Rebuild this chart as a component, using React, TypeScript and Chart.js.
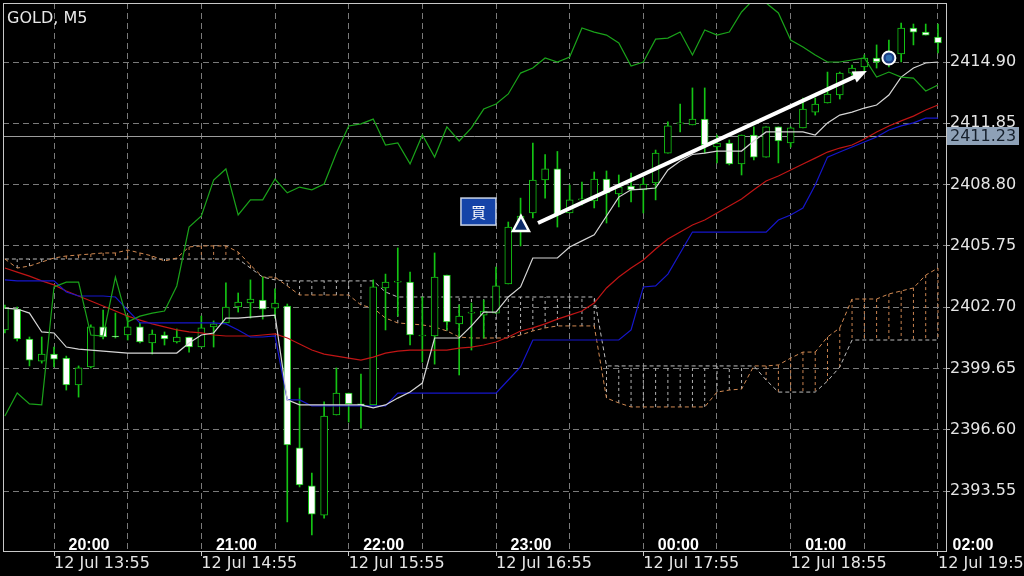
import React, { useEffect, useRef } from 'react';
import { Chart, registerables } from 'chart.js';

Chart.register(...registerables);

// ---- data (GOLD, M5) ----
const barIndex = Array.from({ length: 77 }, (_, i) => i);

const opens = [
  2401.57, 2402.61, 2401.12, 2400.02, 2400.37, 2400.17, 2398.83, 2399.73, 2401.72, 2401.27,
  2401.32, 2401.72, 2400.92, 2401.32, 2400.97, 2401.22, 2400.72, 2401.72, 2401.92, 2402.71,
  2402.91, 2403.06, 2402.66, 2402.76, 2395.70, 2393.81, 2392.36, 2397.34, 2398.43, 2397.89,
  2397.84, 2403.66, 2403.95, 2403.95, 2401.27, 2401.27, 2404.30, 2401.87, 2402.41, 2402.31,
  2402.41, 2403.86, 2406.69, 2407.39, 2409.03, 2409.58, 2407.39, 2408.04, 2407.99, 2409.08,
  2408.34, 2408.73, 2408.54, 2408.88, 2410.37, 2411.82, 2411.77, 2412.06, 2410.67, 2410.87,
  2409.83, 2411.27, 2410.17, 2411.67, 2410.87, 2411.62, 2412.41, 2412.86, 2413.26, 2414.35,
  2414.65, 2415.10, 2415.00, 2415.30, 2416.59, 2416.39, 2416.14,
];
const highs = [
  2402.81, 2402.71, 2401.22, 2401.22, 2400.72, 2400.27, 2399.78, 2401.82, 2402.56, 2402.41,
  2402.31, 2401.92, 2401.57, 2401.47, 2401.62, 2401.22, 2402.26, 2402.02, 2403.91, 2403.41,
  2404.06, 2404.20, 2403.61, 2402.86, 2398.68, 2394.45, 2397.99, 2399.68, 2398.43, 2399.38,
  2404.06, 2404.35, 2405.65, 2404.45, 2403.21, 2405.40, 2404.30, 2402.81, 2402.91, 2403.06,
  2404.70, 2406.94, 2408.13, 2410.87, 2410.30, 2410.45, 2408.78, 2408.93, 2409.43, 2409.48,
  2409.28, 2409.38, 2409.13, 2410.52, 2411.92, 2412.81, 2413.61, 2413.61, 2411.27, 2411.02,
  2411.27, 2411.67, 2411.67, 2411.67, 2411.67, 2413.11, 2413.11, 2414.40, 2414.40, 2414.75,
  2415.25, 2415.75, 2415.99, 2416.84, 2416.79, 2416.79, 2416.79,
];
const lows = [
  2401.42, 2401.02, 2399.78, 2399.92, 2399.73, 2398.58, 2398.23, 2399.68, 2401.12, 2401.17,
  2401.07, 2400.92, 2400.37, 2400.82, 2400.92, 2400.47, 2400.72, 2400.72, 2401.92, 2402.46,
  2402.16, 2402.11, 2402.16, 2392.02, 2393.76, 2391.37, 2392.21, 2397.34, 2396.99, 2396.69,
  2397.84, 2401.57, 2402.26, 2400.82, 2399.97, 2399.87, 2401.57, 2399.33, 2400.57, 2401.17,
  2402.41, 2403.86, 2405.75, 2407.14, 2408.13, 2406.69, 2407.39, 2407.79, 2407.64, 2406.89,
  2407.69, 2407.94, 2407.39, 2408.04, 2410.37, 2411.42, 2411.77, 2410.37, 2409.88, 2409.78,
  2409.28, 2410.03, 2410.17, 2409.88, 2410.67, 2411.62, 2412.26, 2412.86, 2413.06, 2414.25,
  2414.40, 2414.60, 2414.65, 2414.90, 2415.75, 2416.24, 2415.35,
];
const closes = [
  2402.66, 2401.12, 2400.07, 2400.37, 2400.12, 2398.83, 2399.68, 2401.72, 2401.22, 2401.22,
  2401.72, 2400.97, 2401.37, 2401.12, 2401.22, 2400.72, 2401.67, 2401.87, 2402.71, 2402.96,
  2403.11, 2402.61, 2402.91, 2395.85, 2393.86, 2392.41, 2397.29, 2398.43, 2397.89, 2397.84,
  2403.71, 2403.95, 2403.95, 2401.32, 2401.27, 2404.20, 2401.97, 2402.26, 2402.41, 2402.51,
  2403.76, 2406.69, 2407.24, 2409.03, 2409.58, 2407.29, 2408.04, 2408.04, 2409.08, 2408.39,
  2408.68, 2408.54, 2408.83, 2410.37, 2411.72, 2411.82, 2412.06, 2410.77, 2410.87, 2409.83,
  2411.27, 2410.17, 2411.67, 2410.97, 2411.62, 2412.56, 2412.81, 2413.31, 2414.35, 2414.60,
  2415.10, 2414.90, 2415.15, 2416.59, 2416.39, 2416.24, 2415.85,
];

// white line
const tenkanSen = [
  2402.66, 2402.61, 2402.41, 2401.47, 2401.42, 2400.72, 2400.62, 2400.57, 2400.52, 2400.47,
  2400.42, 2400.42, 2400.42, 2400.42, 2400.42, 2400.92, 2401.32, 2401.42, 2402.16, 2402.16,
  2402.21, 2402.26, 2402.31, 2398.09, 2397.84, 2397.84, 2397.84, 2397.84, 2397.84, 2397.84,
  2397.69, 2397.84, 2398.18, 2398.48, 2398.93, 2401.17, 2401.17, 2401.17, 2401.77, 2402.46,
  2402.46, 2403.21, 2403.71, 2405.15, 2405.15, 2405.15, 2405.70, 2406.00, 2406.30, 2407.24,
  2408.18, 2408.54, 2408.58, 2408.63, 2409.53, 2409.98, 2410.30, 2410.37, 2410.47, 2410.47,
  2410.47, 2410.97, 2411.42, 2411.42, 2411.42, 2411.42, 2411.27, 2411.87, 2412.26, 2412.41,
  2412.61, 2412.76, 2413.26, 2414.15, 2414.60, 2414.85, 2414.90,
];
// blue line
const kijunSen = [
  2404.06, 2404.01, 2404.01, 2404.01, 2404.01, 2403.46, 2403.26, 2403.26, 2403.26, 2403.21,
  2402.56, 2401.92, 2401.92, 2401.92, 2401.92, 2401.92, 2401.92, 2401.92, 2401.87, 2401.57,
  2401.22, 2401.22, 2401.27, 2398.09, 2398.09, 2397.79, 2397.79, 2397.79, 2397.79, 2397.79,
  2397.79, 2397.79, 2398.43, 2398.43, 2398.43, 2398.43, 2398.43, 2398.43, 2398.43, 2398.43,
  2398.43, 2399.08, 2399.73, 2401.07, 2401.07, 2401.07, 2401.07, 2401.07, 2401.07, 2401.07,
  2401.07, 2401.57, 2403.71, 2403.76, 2404.35, 2405.40, 2406.44, 2406.44, 2406.44, 2406.44,
  2406.44, 2406.44, 2406.44, 2407.04, 2407.29, 2407.64, 2408.78, 2410.17, 2410.42, 2410.67,
  2410.92, 2411.17, 2411.52, 2411.72, 2411.87, 2412.11, 2412.11,
];
// red line
const movingAverage = [
  2404.65, 2404.45, 2404.25, 2404.01, 2403.81, 2403.51, 2403.26, 2403.01, 2402.76, 2402.51,
  2402.26, 2402.06, 2401.87, 2401.72, 2401.57, 2401.47, 2401.42, 2401.32, 2401.27, 2401.27,
  2401.27, 2401.32, 2401.37, 2401.17, 2400.87, 2400.57, 2400.37, 2400.27, 2400.17, 2400.07,
  2400.22, 2400.42, 2400.52, 2400.57, 2400.57, 2400.57, 2400.57, 2400.67, 2400.72, 2400.82,
  2400.97, 2401.22, 2401.52, 2401.67, 2401.87, 2402.11, 2402.31, 2402.51, 2402.91, 2403.66,
  2404.20, 2404.65, 2405.05, 2405.60, 2406.09, 2406.44, 2406.79, 2407.04, 2407.39, 2407.74,
  2408.09, 2408.54, 2408.98, 2409.23, 2409.53, 2409.83, 2410.12, 2410.42, 2410.62, 2410.77,
  2411.07, 2411.42, 2411.72, 2411.97, 2412.21, 2412.51, 2412.76,
];
// green line
const chikouSpan = [
  2397.29, 2398.43, 2397.89, 2397.84, 2403.71, 2403.95, 2403.95, 2401.32, 2401.27, 2404.20,
  2401.97, 2402.26, 2402.41, 2402.51, 2403.76, 2406.69, 2407.24, 2409.03, 2409.58, 2407.29,
  2408.04, 2408.04, 2409.08, 2408.39, 2408.68, 2408.54, 2408.83, 2410.37, 2411.72, 2411.82,
  2412.06, 2410.77, 2410.87, 2409.83, 2411.27, 2410.17, 2411.67, 2410.97, 2411.62, 2412.56,
  2412.81, 2413.31, 2414.35, 2414.60, 2415.10, 2414.90, 2415.15, 2416.59, 2416.39, 2416.24,
  2415.85, 2414.70, 2414.90, 2416.04, 2416.09, 2416.39, 2415.25, 2416.49, 2416.24, 2416.39,
  2417.39, 2418.03, 2417.84, 2417.34, 2415.99, 2415.65, 2415.25, 2414.90, 2414.90, 2415.00,
  2415.10, 2414.15, 2414.40, 2414.15, 2414.10, 2413.46, 2413.76,
];
// cloud: orange dashed
const senkouSpanA = [
  2405.10, 2404.65, 2404.75, 2404.95, 2405.15, 2405.25, 2405.30, 2405.35, 2405.40, 2405.40,
  2405.55, 2405.40, 2405.25, 2405.00, 2405.15, 2405.70, 2405.75, 2405.75, 2405.75, 2405.45,
  2404.80, 2404.20, 2404.20, 2403.76, 2403.31, 2403.31, 2403.31, 2403.31, 2403.31, 2402.81,
  2402.66, 2402.16, 2401.92, 2401.87, 2401.82, 2401.72, 2401.52, 2401.22, 2401.17, 2401.17,
  2401.17, 2401.17, 2401.32, 2401.52, 2401.67, 2401.77, 2401.77, 2401.77, 2401.77, 2398.18,
  2397.94, 2397.74, 2397.74, 2397.74, 2397.74, 2397.74, 2397.74, 2397.74, 2398.48, 2398.58,
  2398.63, 2399.78, 2399.78, 2399.83, 2400.17, 2400.47, 2400.47, 2401.22, 2401.67, 2403.11,
  2403.11, 2403.11, 2403.36, 2403.51, 2403.66, 2404.30, 2404.65,
];
// cloud: grey dashed
const senkouSpanB = [
  2405.10, 2405.10, 2405.10, 2405.10, 2405.10, 2405.10, 2405.10, 2405.10, 2405.10, 2405.10,
  2405.10, 2405.10, 2405.10, 2405.10, 2405.10, 2405.10, 2405.10, 2405.10, 2405.10, 2405.10,
  2404.65, 2404.20, 2404.06, 2404.01, 2404.01, 2404.01, 2404.01, 2404.01, 2404.01, 2404.01,
  2404.01, 2403.46, 2403.21, 2403.21, 2403.21, 2403.21, 2403.21, 2403.21, 2403.21, 2403.21,
  2403.21, 2403.21, 2403.21, 2403.21, 2403.21, 2403.21, 2403.21, 2403.21, 2403.21, 2399.78,
  2399.78, 2399.78, 2399.78, 2399.78, 2399.78, 2399.78, 2399.78, 2399.78, 2399.78, 2399.78,
  2399.78, 2399.78, 2399.08, 2398.48, 2398.48, 2398.48, 2398.48, 2399.03, 2399.73, 2401.07,
  2401.07, 2401.07, 2401.07, 2401.07, 2401.07, 2401.07, 2401.07,
];

const yTickLabels = ['2414.90', '2411.85', '2408.80', '2405.75', '2402.70', '2399.65', '2396.60', '2393.55'];
const xGridBars = [4, 10, 16, 22, 28, 34, 40, 46, 52, 58, 64, 70, 76];
const xDateBars = [4, 16, 28, 40, 52, 64, 76];
const xDateLabels = ['12 Jul 13:55', '12 Jul 14:55', '12 Jul 15:55', '12 Jul 16:55', '12 Jul 17:55', '12 Jul 18:55', '12 Jul 19:55'];
const hourLabels = ['20:00', '21:00', '22:00', '23:00', '00:00', '01:00', '02:00'];

const currentPrice = 2411.23;
const titleText = 'GOLD, M5';
const buyText = '買';
const arrowFrom = [43.42, 2406.89];
const arrowTo = [70.21, 2414.45];
const buyLabelAt = [38.57, 2407.46];
const buyTriangleAt = [42.03, 2406.84];
const circleAt = [72.0, 2415.1];

const Y_MIN = 2390.573;
const Y_MAX = 2417.836;
const X_MIN = -0.155;
const X_MAX = 76.652;

const CANDLE = '#14c414';
const GRID = '#7a7a7a';
const AXIS_TEXT = '#e6e6e6';

const overlay = {
  id: 'overlay',
  beforeDatasetsDraw(chart: any) {
    const { ctx, chartArea, scales } = chart;
    const y = Math.round(scales.y.getPixelForValue(currentPrice)) + 0.5;
    ctx.save();
    ctx.strokeStyle = '#9c9c9c';
    ctx.lineWidth = 1;
    ctx.beginPath();
    ctx.moveTo(chartArea.left, y);
    ctx.lineTo(chartArea.right, y);
    ctx.stroke();
    ctx.restore();
  },
  afterDatasetsDraw(chart: any) {
    const { ctx, chartArea, scales } = chart;
    const xs = scales.x;
    const ys = scales.y;
    ctx.save();
    ctx.beginPath();
    ctx.rect(chartArea.left, chartArea.top, chartArea.right - chartArea.left, chartArea.bottom - chartArea.top);
    ctx.clip();

    // arrow
    const x1 = xs.getPixelForValue(arrowFrom[0]);
    const y1 = ys.getPixelForValue(arrowFrom[1]);
    const x2 = xs.getPixelForValue(arrowTo[0]);
    const y2 = ys.getPixelForValue(arrowTo[1]);
    const len = Math.hypot(x2 - x1, y2 - y1);
    const ux = (x2 - x1) / len;
    const uy = (y2 - y1) / len;
    const head = 14;
    const bx = x2 - ux * head;
    const by = y2 - uy * head;
    ctx.strokeStyle = '#ffffff';
    ctx.fillStyle = '#ffffff';
    ctx.lineWidth = 4;
    ctx.beginPath();
    ctx.moveTo(x1, y1);
    ctx.lineTo(bx + ux * 2, by + uy * 2);
    ctx.stroke();
    ctx.beginPath();
    ctx.moveTo(x2, y2);
    ctx.lineTo(bx - uy * 6, by + ux * 6);
    ctx.lineTo(bx + uy * 6, by - ux * 6);
    ctx.closePath();
    ctx.fill();

    // buy label
    const lx = xs.getPixelForValue(buyLabelAt[0]);
    const ly = ys.getPixelForValue(buyLabelAt[1]);
    ctx.fillStyle = '#1544a8';
    ctx.fillRect(lx - 17.5, ly - 13.5, 35, 27);
    ctx.strokeStyle = '#c9d3e6';
    ctx.lineWidth = 1.5;
    ctx.strokeRect(lx - 17.5, ly - 13.5, 35, 27);
    ctx.fillStyle = '#ffffff';
    ctx.font = '15px "Noto Sans CJK JP"';
    ctx.textAlign = 'center';
    ctx.textBaseline = 'middle';
    ctx.fillText(buyText, lx, ly + 1);

    // buy triangle
    const tx = xs.getPixelForValue(buyTriangleAt[0]);
    const ty = ys.getPixelForValue(buyTriangleAt[1]);
    ctx.beginPath();
    ctx.moveTo(tx, ty - 8);
    ctx.lineTo(tx - 8, ty + 7);
    ctx.lineTo(tx + 8, ty + 7);
    ctx.closePath();
    ctx.fillStyle = '#0c2a6a';
    ctx.fill();
    ctx.strokeStyle = '#ffffff';
    ctx.lineWidth = 2.5;
    ctx.stroke();

    // circle
    const cx = xs.getPixelForValue(circleAt[0]);
    const cy = ys.getPixelForValue(circleAt[1]);
    ctx.beginPath();
    ctx.arc(cx, cy, 6.5, 0, Math.PI * 2);
    ctx.fillStyle = '#1c3f86';
    ctx.fill();
    ctx.strokeStyle = '#ffffff';
    ctx.lineWidth = 2;
    ctx.stroke();
    ctx.beginPath();
    ctx.arc(cx, cy, 3.2, 0, Math.PI * 2);
    ctx.fillStyle = '#2f6fb0';
    ctx.fill();
    ctx.restore();

    // frame
    ctx.save();
    ctx.strokeStyle = '#c8c8c8';
    ctx.lineWidth = 1;
    ctx.strokeRect(chartArea.left + 0.5, chartArea.top + 0.5, chartArea.right - chartArea.left, chartArea.bottom - chartArea.top);
    ctx.restore();
  },
  afterDraw(chart: any) {
    const { ctx, chartArea, scales } = chart;
    ctx.save();
    // title
    ctx.fillStyle = '#e8e8e8';
    ctx.font = '16px "DejaVu Sans"';
    ctx.textAlign = 'left';
    ctx.textBaseline = 'alphabetic';
    ctx.fillText(titleText, 7, 23);

    // hour labels
    ctx.fillStyle = '#ffffff';
    ctx.font = 'bold 16px "Liberation Sans"';
    ctx.textAlign = 'center';
    hourLabels.forEach((t, k) => {
      const px = scales.x.getPixelForValue(xDateBars[k]) + 35;
      ctx.fillText(t, px, chartArea.bottom - 1);
    });

    // current price label
    const y = scales.y.getPixelForValue(currentPrice);
    ctx.fillStyle = '#8ea1b7';
    ctx.fillRect(chartArea.right + 1, Math.round(y) - 9, 72, 18);
    ctx.fillStyle = '#16202c';
    ctx.font = '16px "DejaVu Sans"';
    ctx.textAlign = 'left';
    ctx.textBaseline = 'middle';
    ctx.fillText(currentPrice.toFixed(2), chartArea.right + 4, Math.round(y) + 1);
    ctx.restore();
  },
};

function buildHatch(upper: boolean) {
  const pts: any[] = [];
  barIndex.forEach((i) => {
    const a = senkouSpanA[i];
    const b = senkouSpanB[i];
    if ((a >= b) === upper) {
      pts.push({ x: i, y: a }, { x: i, y: b }, { x: i, y: null });
    }
  });
  return pts;
}

function lineSet(label: string, values: number[], color: string, order: number, extra: any = {}) {
  return {
    type: 'line',
    label,
    data: values.map((v, i) => ({ x: barIndex[i], y: v })),
    borderColor: color,
    borderWidth: 1.2,
    pointRadius: 0,
    tension: 0,
    fill: false,
    spanGaps: false,
    order,
    ...extra,
  };
}

export default function App() {
  const ref = useRef<HTMLCanvasElement>(null);
  useEffect(() => {
    document.body.style.margin = '0';
    document.body.style.background = '#000';
    const isBear = barIndex.map((i) => closes[i] < opens[i]);
    const chart = new Chart(ref.current as HTMLCanvasElement, {
      type: 'bar',
      data: {
        datasets: [
          lineSet('Chikou', chikouSpan, '#1aa31a', 1),
          lineSet('Tenkan', tenkanSen, '#d6d6d6', 2),
          lineSet('Kijun', kijunSen, '#1616cc', 3),
          lineSet('MA', movingAverage, '#c01515', 4),
          {
            type: 'bar',
            label: 'Body',
            data: barIndex.map((i) => ({ x: i, y: [opens[i], closes[i]] })),
            backgroundColor: isBear.map((b) => (b ? '#ffffff' : '#000000')),
            borderColor: CANDLE,
            borderWidth: 1,
            borderSkipped: false,
            barThickness: 7,
            minBarLength: 1,
            grouped: false,
            order: 5,
          },
          {
            type: 'bar',
            label: 'Wick',
            data: barIndex.map((i) => ({ x: i, y: [lows[i], highs[i]] })),
            backgroundColor: CANDLE,
            borderWidth: 0,
            barThickness: 1,
            grouped: false,
            order: 6,
          },
          lineSet('SpanA', senkouSpanA, '#d28a52', 7, { borderDash: [4, 3], borderWidth: 1 }),
          lineSet('SpanB', senkouSpanB, '#bdbdbd', 8, { borderDash: [4, 3], borderWidth: 1 }),
          {
            type: 'line',
            label: 'HatchA',
            data: buildHatch(true),
            borderColor: '#c98350',
            borderWidth: 1,
            borderDash: [3, 3],
            pointRadius: 0,
            spanGaps: false,
            order: 9,
          },
          {
            type: 'line',
            label: 'HatchB',
            data: buildHatch(false),
            borderColor: '#b4b4b4',
            borderWidth: 1,
            borderDash: [3, 3],
            pointRadius: 0,
            spanGaps: false,
            order: 10,
          },
        ] as any,
      },
      options: {
        responsive: false,
        maintainAspectRatio: false,
        animation: false,
        events: [],
        layout: { padding: { left: 3, top: 3, right: 0, bottom: 0 } },
        plugins: { legend: { display: false }, tooltip: { enabled: false } },
        scales: {
          x: {
            type: 'linear',
            min: X_MIN,
            max: X_MAX,
            offset: false,
            afterBuildTicks: (s: any) => {
              s.ticks = xGridBars.map((v) => ({ value: v }));
            },
            afterFit: (s: any) => {
              s.height = 25;
              s.paddingLeft = 0;
              s.paddingRight = 0;
            },
            ticks: {
              callback: (v: any) => {
                const k = xDateBars.indexOf(Number(v));
                return k >= 0 ? xDateLabels[k] : '';
              },
              align: 'start',
              maxRotation: 0,
              minRotation: 0,
              autoSkip: false,
              color: AXIS_TEXT,
              font: { family: 'DejaVu Sans', size: 16 },
              padding: -2,
            },
            grid: {
              color: GRID,
              lineWidth: 1,
              offset: false,
              drawTicks: true,
              tickLength: 5,
              tickWidth: 1,
              tickBorderDash: [],
              tickColor: (c: any) => (c.tick && xDateBars.includes(c.tick.value) ? '#c8c8c8' : 'rgba(0,0,0,0)'),
            },
            border: { display: false, dash: [6, 4] },
          },
          y: {
            type: 'linear',
            position: 'right',
            min: Y_MIN,
            max: Y_MAX,
            bounds: 'data',
            beginAtZero: false,
            afterBuildTicks: (s: any) => {
              s.ticks = yTickLabels.map((t) => ({ value: Number(t) }));
            },
            afterFit: (s: any) => {
              s.width = 78;
              s.paddingTop = 0;
              s.paddingBottom = 0;
            },
            ticks: {
              callback: (_v: any, i: number) => yTickLabels[i],
              autoSkip: false,
              color: AXIS_TEXT,
              font: { family: 'DejaVu Sans', size: 16 },
              padding: 0,
              crossAlign: 'near',
            },
            grid: {
              color: GRID,
              lineWidth: 1,
              offset: false,
              drawTicks: true,
              tickLength: 4,
              tickColor: '#b0b0b0',
              tickBorderDash: [],
            },
            border: { display: false, dash: [6, 4] },
          },
        },
      } as any,
      plugins: [overlay],
    });
    return () => chart.destroy();
  }, []);
  return (
    <div style={{ position: 'fixed', left: 0, top: 0, width: 1024, height: 576, background: '#000' }}>
      <canvas ref={ref} width={1024} height={576} style={{ display: 'block', width: 1024, height: 576 }} />
    </div>
  );
}
